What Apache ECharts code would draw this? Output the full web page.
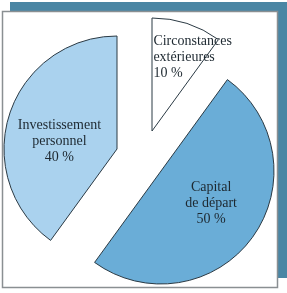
<!DOCTYPE html>
<html>
<head>
<meta charset="utf-8">
<script src="https://cdn.jsdelivr.net/npm/echarts@6/dist/echarts.min.js"></script>
<style>
html,body{margin:0;padding:0;background:#ffffff;}
#chart{width:287px;height:293px;}
</style>
</head>
<body>
<div id="chart"></div>
<script>
// Data
var categories = ['Circonstances\nextérieures', 'Capital\nde départ', 'Investissement\npersonnel'];
var values = [10, 50, 40];
var percentLabels = ['10 %', '50 %', '40 %'];

var colors = ['#ffffff', '#6aadd7', '#aad2ee'];
var centers = [[152, 131], [161, 171], [117, 149]];
var labelOffsets = [[25, -17], [2, -3], [-1, 11]];
var radius = 113;

var chart = echarts.init(document.getElementById('chart'), null, {renderer: 'canvas'});

function makeSeries(idx) {
  return {
    type: 'pie',
    silent: true,
    center: centers[idx],
    radius: [0, radius],
    startAngle: 90,
    clockwise: true,
    avoidLabelOverlap: false,
    labelLine: {show: false},
    emphasis: {disabled: true},
    z: 5,
    data: values.map(function (v, i) {
      var visible = i === idx;
      var item = {
        name: categories[i],
        value: v,
        itemStyle: visible
          ? {color: colors[i], borderColor: '#2b3a44', borderWidth: 1}
          : {color: 'rgba(0,0,0,0)', borderWidth: 0},
        label: {show: visible}
      };
      if (visible) {
        var txt = categories[i] + '\n' + percentLabels[i];
        item.label = {
          show: true,
          position: 'inside',
          offset: labelOffsets[i],
          formatter: i === 0
            ? txt.split('\n').map(function (s) { return '{l|' + s + '}'; }).join('\n')
            : txt,
          fontFamily: 'Liberation Serif',
          fontSize: 14,
          lineHeight: 16,
          color: '#1d2830',
          rich: {
            l: {width: 84, align: 'left', fontFamily: 'Liberation Serif', fontSize: 14, lineHeight: 16, color: '#1d2830'}
          }
        };
      }
      return item;
    })
  };
}

chart.setOption({
  backgroundColor: '#ffffff',
  animation: false,
  graphic: [
    {type: 'rect', z: -10, silent: true, shape: {x: 10, y: 2, width: 277, height: 276}, style: {fill: '#4a86a4'}},
    {type: 'rect', z: -9, silent: true, shape: {x: 2.5, y: 11.5, width: 275, height: 276}, style: {fill: '#ffffff', stroke: '#8a8f92', lineWidth: 1.5}}
  ],
  series: [makeSeries(0), makeSeries(1), makeSeries(2)]
});
</script>
</body>
</html>
